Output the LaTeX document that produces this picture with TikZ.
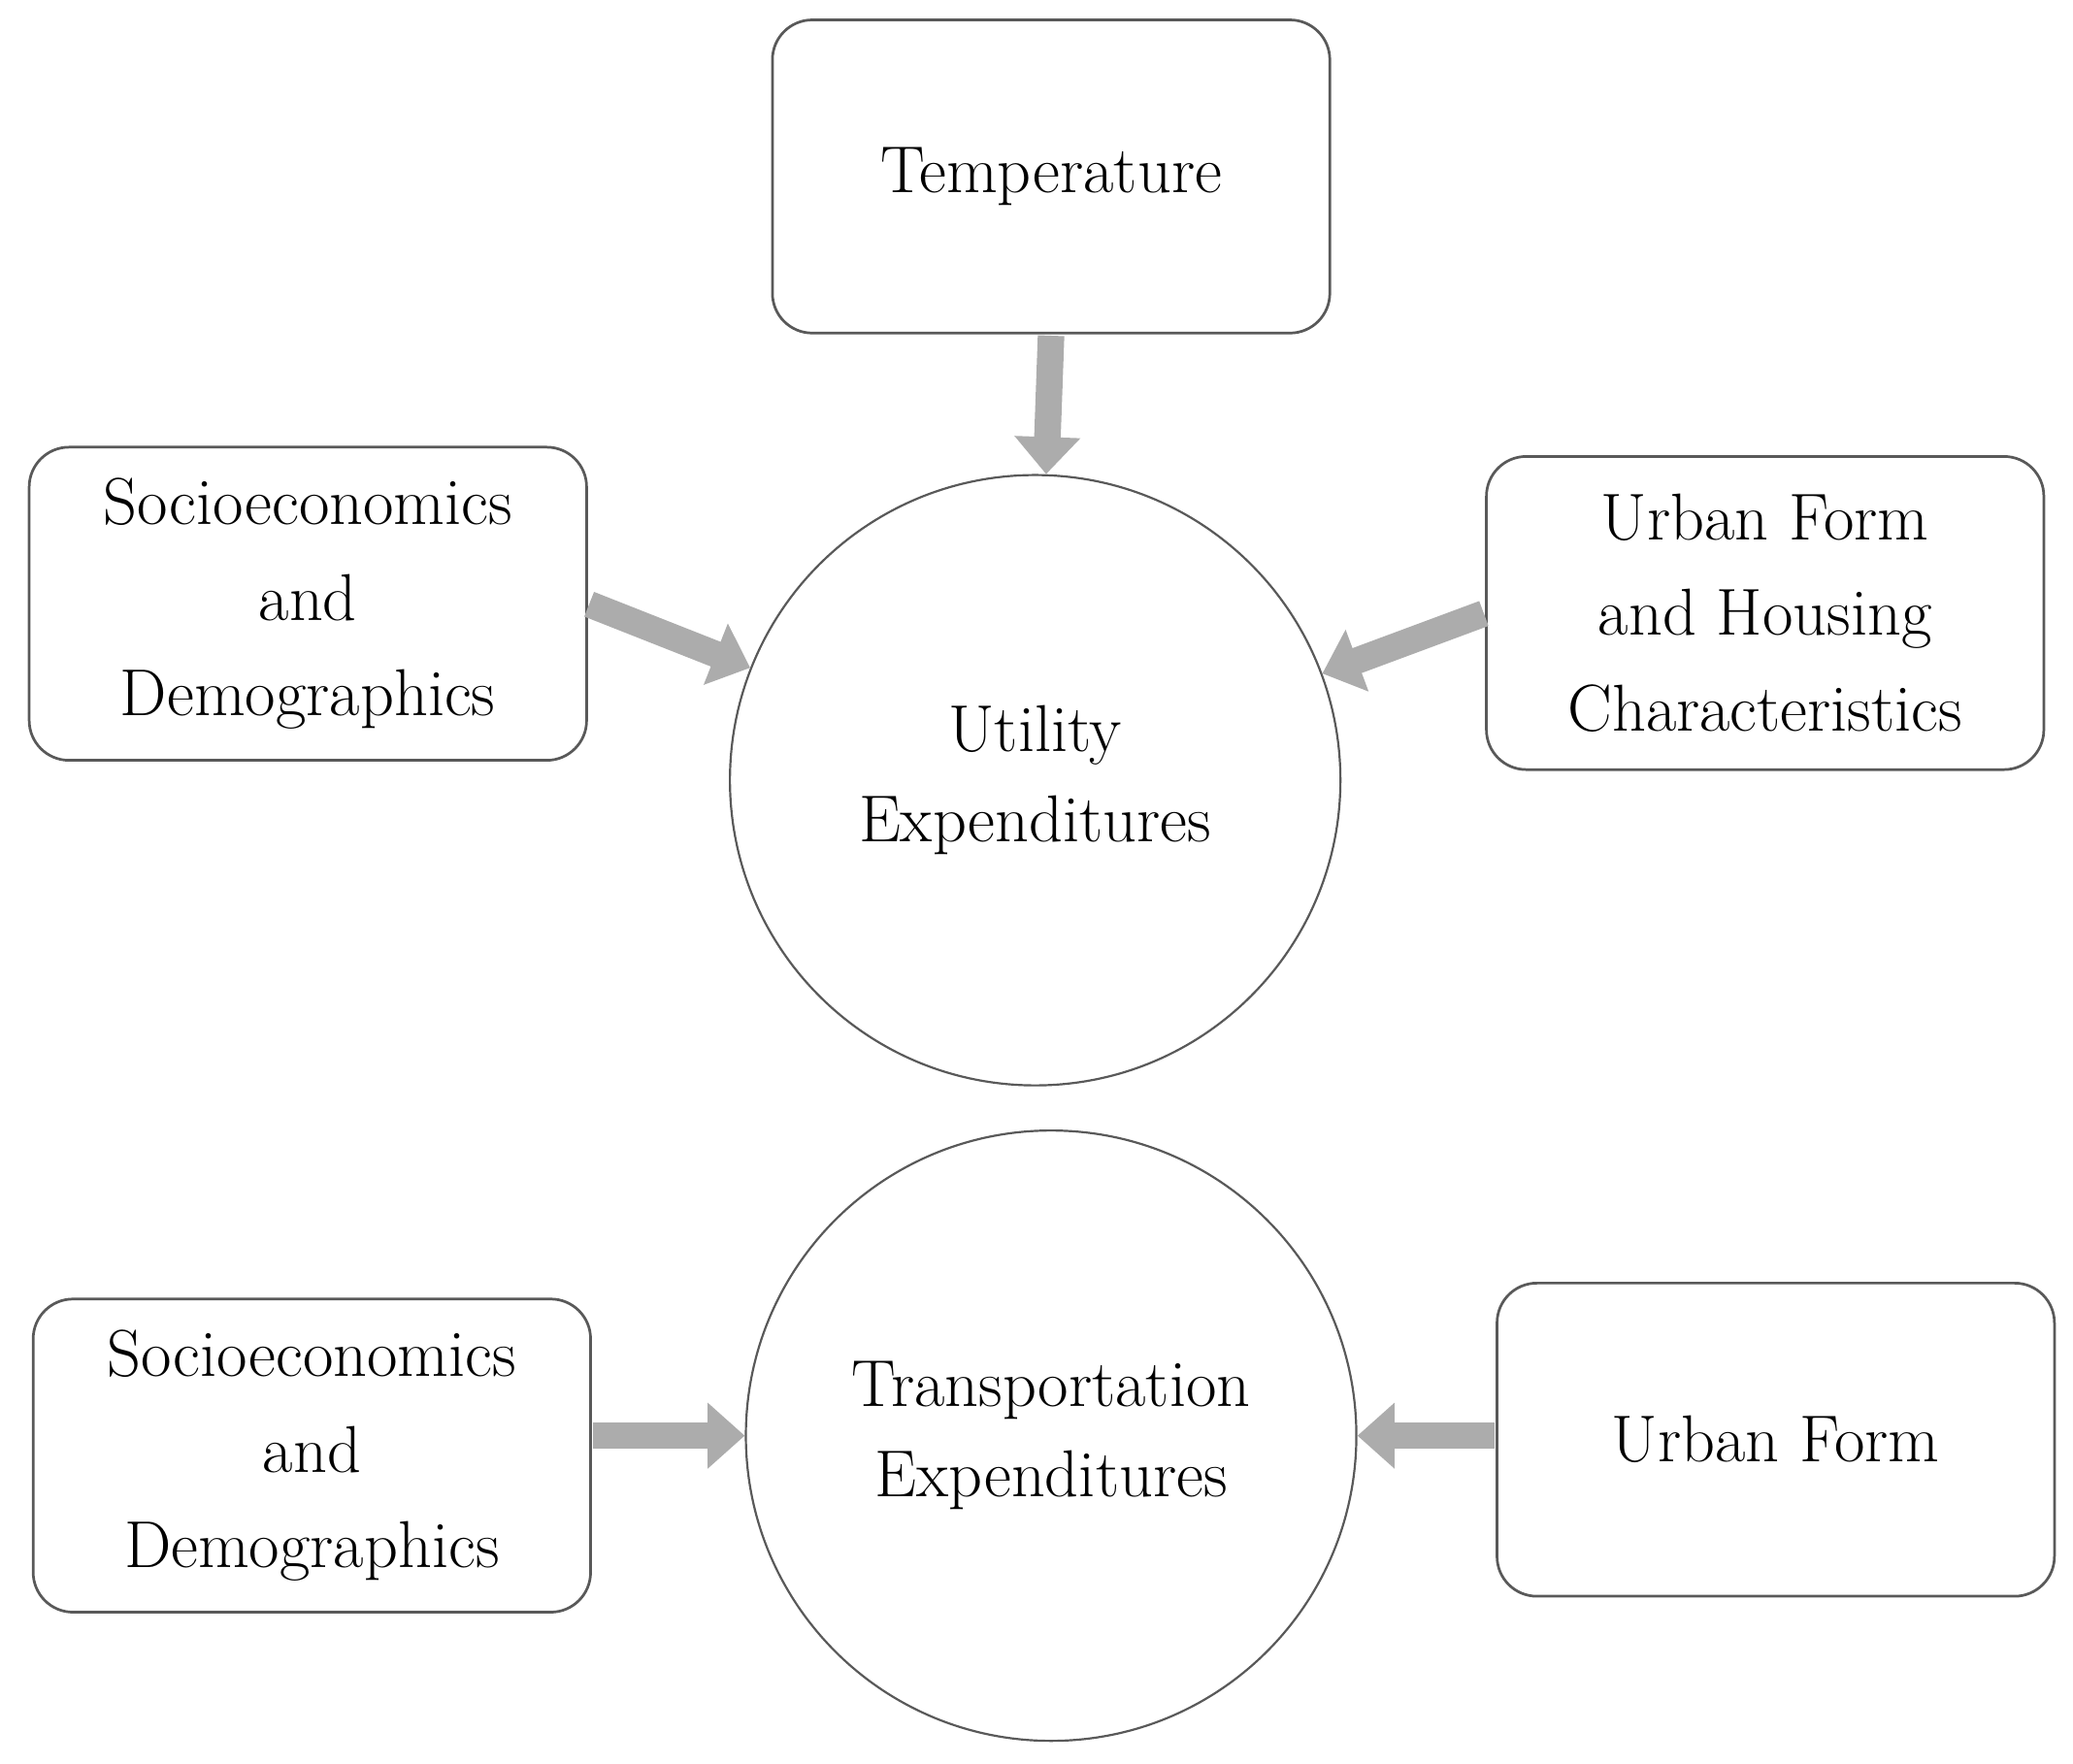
\documentclass[tikz,border=0pt]{standalone}
\usetikzlibrary{arrows.meta}
\begin{document}
\begin{tikzpicture}[x=0.5pt,y=-0.5pt,
  box/.style={draw=gray!70!black,line width=1pt,rounded corners=15pt,minimum width=210pt,minimum height=118pt,align=center,font=\fontsize{25}{36}\selectfont},
  circ/.style={draw=gray!70!black,line width=0.8pt,circle,minimum size=230pt,align=center,font=\fontsize{25}{34}\selectfont},
  barrow/.style={line width=10pt,draw=gray!65,-{Triangle[length=14pt,width=24pt]},shorten <=0.5pt}]
\useasboundingbox (0,0) rectangle (1562,1329);
\node[box] (temp) at (792,133) {Temperature};
\node[box] (soc1) at (232,455) {Socioeconomics\\and\\Demographics};
\node[box] (urb1) at (1330,462) {Urban Form\\and Housing\\Characteristics};
\node[circ] (util) at (780,588) {Utility\\Expenditures};
\node[box] (soc2) at (235,1097) {Socioeconomics\\and\\Demographics};
\node[box] (urb2) at (1338,1085) {Urban Form};
\node[circ] (trans) at (792,1082) {Transportation\\Expenditures};
\draw[barrow] (temp.south) -- (util);
\draw[barrow] (soc1.east) -- (util);
\draw[barrow] (urb1.west) -- (util);
\draw[barrow] (soc2.east|-trans) -- (trans);
\draw[barrow] (urb2.west|-trans) -- (trans);
\end{tikzpicture}
\end{document}
